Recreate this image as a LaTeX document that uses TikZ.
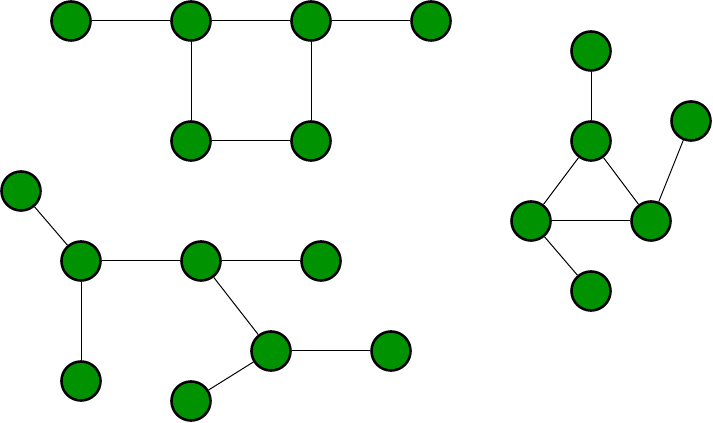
\documentclass[tikz,border=0pt]{standalone}
\definecolor{nodegreen}{RGB}{0,146,0}
\begin{document}
\begin{tikzpicture}[x=0.75pt,y=-0.75pt,
  vert/.style={circle,draw=black,fill=nodegreen,line width=1.9pt,minimum size=29.3pt,inner sep=0pt},
  edge/.style={draw=black,line width=0.75pt}]
\useasboundingbox (0,0) rectangle (713,423);
% top graph
\node[vert] (a) at (71,21) {};
\node[vert] (b) at (191,21) {};
\node[vert] (c) at (311,21) {};
\node[vert] (d) at (431,21) {};
\node[vert] (e) at (191,141) {};
\node[vert] (f) at (311,141) {};
% bottom-left graph
\node[vert] (g) at (21,191) {};
\node[vert] (h) at (81,261) {};
\node[vert] (i) at (201,261) {};
\node[vert] (j) at (321,261) {};
\node[vert] (k) at (81,381) {};
\node[vert] (l) at (271,351) {};
\node[vert] (m) at (391,351) {};
\node[vert] (n) at (191,401) {};
% right graph
\node[vert] (o) at (591,51) {};
\node[vert] (p) at (591,141) {};
\node[vert] (q) at (691,121) {};
\node[vert] (r) at (531,221) {};
\node[vert] (s) at (651,221) {};
\node[vert] (t) at (591,291) {};
\draw[edge] (a) -- (b);
\draw[edge] (b) -- (c);
\draw[edge] (c) -- (d);
\draw[edge] (b) -- (e);
\draw[edge] (e) -- (f);
\draw[edge] (f) -- (c);
\draw[edge] (g) -- (h);
\draw[edge] (h) -- (i);
\draw[edge] (i) -- (j);
\draw[edge] (h) -- (k);
\draw[edge] (i) -- (l);
\draw[edge] (l) -- (m);
\draw[edge] (l) -- (n);
\draw[edge] (o) -- (p);
\draw[edge] (p) -- (r);
\draw[edge] (p) -- (s);
\draw[edge] (r) -- (s);
\draw[edge] (s) -- (q);
\draw[edge] (r) -- (t);
\end{tikzpicture}
\end{document}
